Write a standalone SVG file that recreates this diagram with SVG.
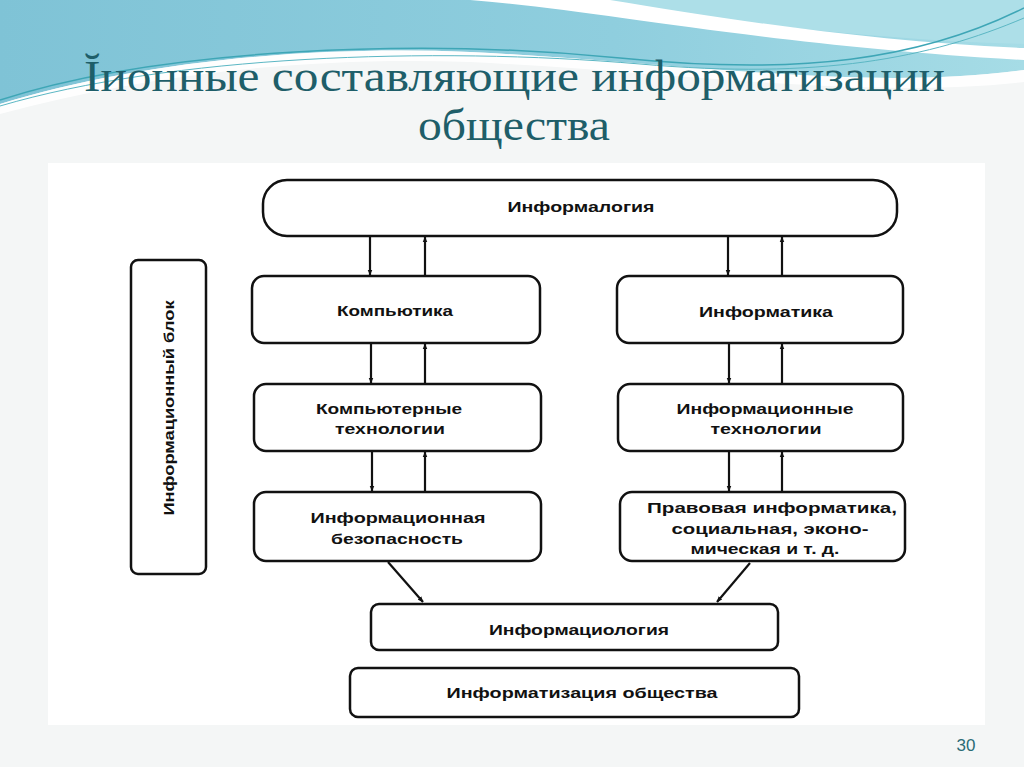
<svg xmlns="http://www.w3.org/2000/svg" width="1024" height="767" viewBox="0 0 1024 767">
<defs>
<linearGradient id="sky" x1="0" y1="0" x2="1" y2="0">
<stop offset="0" stop-color="#7fc3d6"/>
<stop offset="0.6" stop-color="#8fcede"/>
<stop offset="1" stop-color="#a6dce6"/>
</linearGradient>
<marker id="ah" viewBox="0 0 10 10" refX="9" refY="5" markerWidth="6" markerHeight="6" orient="auto" markerUnits="userSpaceOnUse">
<path d="M0,1 L10,5 L0,9 Z" fill="#111"/>
</marker>
<style>
.box{fill:#fff;stroke:#111;stroke-width:2.5}
.lbl{font-family:"Liberation Sans",Arial,sans-serif;font-weight:bold;font-size:15px;fill:#111;text-anchor:middle}
.con{stroke:#111;stroke-width:2.2;fill:none;marker-end:url(#ah)}
.title{font-family:"Liberation Serif","DejaVu Serif",serif;fill:#1e5e69;font-size:44px}
</style>
</defs>
<rect width="1024" height="767" fill="#f4f6f6"/>
<!-- top wave decoration -->
<path d="M0,0 H1024 V70 C860,92 680,62 470,52 C300,45 130,64 0,104 Z" fill="url(#sky)"/>
<path d="M600,0 C720,22 880,40 1024,44 V0 Z" fill="#addfe8"/>
<path d="M470,0 C600,10 760,45 1024,60 V48 C870,42 720,18 610,0 Z" fill="#ffffff"/>
<path d="M0,104 C130,64 300,45 470,52 C680,62 860,92 1024,70 V82 C860,100 680,72 470,62 C300,56 140,76 0,114 Z" fill="#ffffff" opacity="0.9"/>
<path d="M0,100 C160,48 420,38 620,58 C800,76 920,60 1024,8" stroke="#3ea6b6" stroke-width="1.5" fill="none"/>
<path d="M0,106 C170,56 430,46 640,64 C820,80 930,58 1024,18" stroke="#5bb7c4" stroke-width="1" fill="none"/>
<!-- title -->
<text class="title" x="84" y="91" textLength="861" lengthAdjust="spacingAndGlyphs">Ĭионные составляющие информатизации</text>
<text class="title" x="418" y="140" textLength="192" lengthAdjust="spacingAndGlyphs">общества</text>
<!-- diagram area -->
<rect x="48" y="163" width="937" height="562" fill="#ffffff"/>
<g id="connectors">
<line class="con" x1="370" y1="237" x2="370" y2="275"/>
<line class="con" x1="425" y1="275" x2="425" y2="237"/>
<line class="con" x1="728" y1="237" x2="728" y2="275"/>
<line class="con" x1="782" y1="275" x2="782" y2="237"/>
<line class="con" x1="371" y1="344" x2="371" y2="383"/>
<line class="con" x1="425" y1="383" x2="425" y2="344"/>
<line class="con" x1="729" y1="344" x2="729" y2="383"/>
<line class="con" x1="782" y1="383" x2="782" y2="344"/>
<line class="con" x1="372" y1="452" x2="372" y2="491"/>
<line class="con" x1="425" y1="491" x2="425" y2="452"/>
<line class="con" x1="729" y1="452" x2="729" y2="491"/>
<line class="con" x1="782" y1="491" x2="782" y2="452"/>
<line class="con" x1="388" y1="562" x2="423" y2="602"/>
<line class="con" x1="750" y1="563" x2="717" y2="602"/>
</g>
<g id="n-informalogia">
<rect class="box" x="263" y="180" width="634" height="56" rx="24"/>
<text class="lbl" x="581" y="212" textLength="147" lengthAdjust="spacingAndGlyphs">Информалогия</text>
</g>
<g id="n-kompyutika">
<rect class="box" x="252" y="276" width="288" height="67" rx="12"/>
<text class="lbl" x="395" y="316" textLength="116" lengthAdjust="spacingAndGlyphs">Компьютика</text>
</g>
<g id="n-informatika">
<rect class="box" x="617" y="276" width="286" height="67" rx="12"/>
<text class="lbl" x="766" y="317" textLength="134" lengthAdjust="spacingAndGlyphs">Информатика</text>
</g>
<g id="n-komp-tech">
<rect class="box" x="254" y="384" width="287" height="67" rx="12"/>
<text class="lbl" x="389" y="414" textLength="146" lengthAdjust="spacingAndGlyphs">Компьютерные</text>
<text class="lbl" x="390" y="434" textLength="110" lengthAdjust="spacingAndGlyphs" font-weight="normal">технологии</text>
</g>
<g id="n-inf-tech">
<rect class="box" x="618" y="384" width="285" height="67" rx="12"/>
<text class="lbl" x="765" y="414" textLength="177" lengthAdjust="spacingAndGlyphs">Информационные</text>
<text class="lbl" x="766" y="434" textLength="111" lengthAdjust="spacingAndGlyphs" font-weight="normal">технологии</text>
</g>
<g id="n-inf-bez">
<rect class="box" x="254" y="492" width="287" height="69" rx="12"/>
<text class="lbl" x="398" y="523" textLength="175" lengthAdjust="spacingAndGlyphs">Информационная</text>
<text class="lbl" x="397" y="544" textLength="132" lengthAdjust="spacingAndGlyphs">безопасность</text>
</g>
<g id="n-pravovaya">
<rect class="box" x="620" y="492" width="285" height="69" rx="12"/>
<text class="lbl" x="772" y="513" textLength="250" lengthAdjust="spacingAndGlyphs">Правовая информатика,</text>
<text class="lbl" x="770" y="534" textLength="197" lengthAdjust="spacingAndGlyphs">социальная, эконо-</text>
<text class="lbl" x="765" y="554" textLength="149" lengthAdjust="spacingAndGlyphs">мическая и т. д.</text>
</g>
<g id="n-informatsiologia">
<rect class="box" x="371" y="604" width="407" height="46" rx="8"/>
<text class="lbl" x="579" y="635" textLength="180" lengthAdjust="spacingAndGlyphs">Информациология</text>
</g>
<g id="n-informatizatsia">
<rect class="box" x="350" y="668" width="449" height="49" rx="8"/>
<text class="lbl" x="582" y="698" textLength="271" lengthAdjust="spacingAndGlyphs">Информатизация общества</text>
</g>
<g id="n-blok">
<rect class="box" x="131" y="260" width="75" height="314" rx="7"/>
<text class="lbl" transform="translate(174,408) rotate(-90)" x="0" y="0" textLength="215" lengthAdjust="spacingAndGlyphs">Информационный блок</text>
</g>
<text x="966" y="751" font-family="Liberation Sans,Arial,sans-serif" font-size="17" fill="#2b6c76" text-anchor="middle">30</text>
</svg>
